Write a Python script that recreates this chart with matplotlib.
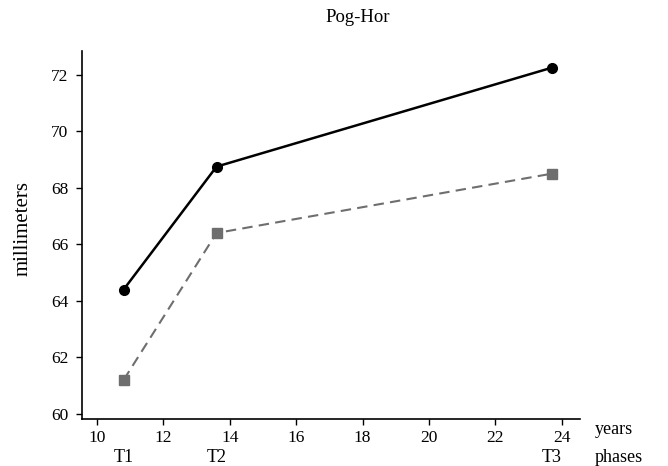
import matplotlib.pyplot as plt

# data
years = [10.8, 13.6, 23.7]
phases = ["T1", "T2", "T3"]
group_a = [64.4, 68.75, 72.25]   # solid black line
group_b = [61.2, 66.4, 68.5]     # dashed grey line
xticks = [10, 12, 14, 16, 18, 20, 22, 24]
yticks = [60, 62, 64, 66, 68, 70, 72]

plt.rcParams['font.family'] = ['Liberation Serif', 'DejaVu Serif']

fig = plt.figure(figsize=(6.68, 4.66), dpi=100)
ax = fig.add_axes([0.123, 0.101, 0.745, 0.79])

ax.plot(years, group_a, '-o', color='black', linewidth=1.8, markersize=7)
ax.plot(years, group_b, '--s', color='#6e6e6e', linewidth=1.5, markersize=7,
        dashes=(5, 3))

ax.set_xlim(9.55, 24.55)
ax.set_ylim(59.82, 72.85)
ax.set_xticks(xticks)
ax.set_yticks(yticks)
ax.tick_params(labelsize=12.5, length=4, width=1)
ax.tick_params(axis='y', pad=6)
ax.tick_params(axis='x', pad=4)
ax.spines['top'].set_visible(False)
ax.spines['right'].set_visible(False)
ax.spines['left'].set_linewidth(1.2)
ax.spines['bottom'].set_linewidth(1.2)

fig.text(23 / 668, 1 - 228 / 466, "millimeters", rotation=90,
         ha='center', va='center', fontsize=15)
fig.text(358 / 668, 1 - 18 / 466, "Pog-Hor", ha='center', va='center',
         fontsize=13.5)

# phase labels under the year ticks
for x, p in zip(years, phases):
    ax.text(x, -0.104, p, transform=ax.get_xaxis_transform(),
            ha='center', va='center', fontsize=13)
ax.text(1.03, -0.03, "years", transform=ax.transAxes,
        ha='left', va='center', fontsize=13)
ax.text(1.03, -0.104, "phases", transform=ax.transAxes,
        ha='left', va='center', fontsize=13)

fig.savefig("out.png", dpi=100)
